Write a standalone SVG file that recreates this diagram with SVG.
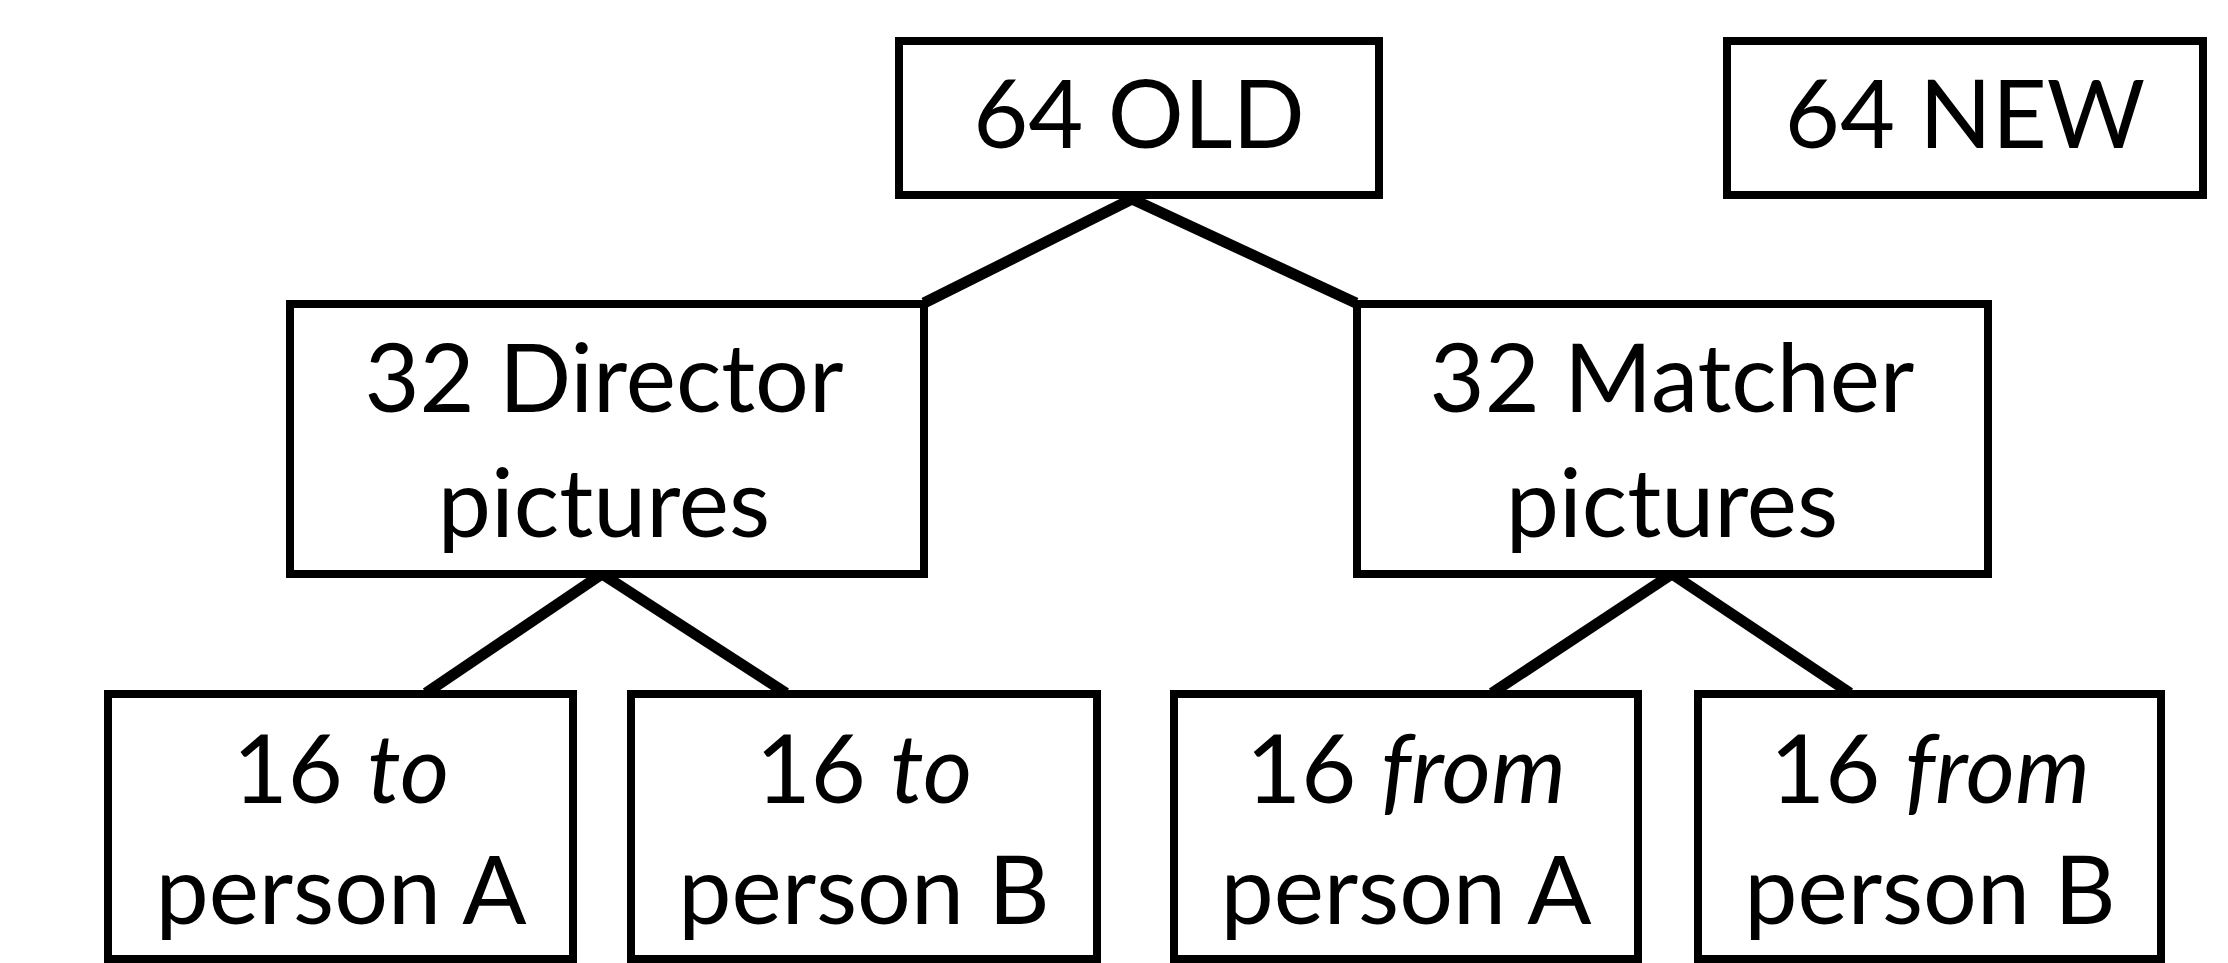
<svg xmlns="http://www.w3.org/2000/svg" width="2228" height="963" viewBox="0 0 2228 963">
<style>
.box{fill:#fff;stroke:#000;stroke-width:8}
.lbl{font-family:Lato,"Open Sans","Liberation Sans",sans-serif;font-size:95px;fill:#000;text-anchor:middle}
.conn line{stroke:#000;stroke-width:11}
</style>
<rect width="2228" height="963" fill="#fff"/>
<g id="connectors" class="conn">
<line x1="1132" y1="199" x2="924" y2="303"/>
<line x1="1132" y1="199" x2="1356" y2="303"/>
<line x1="602" y1="574" x2="426" y2="693"/>
<line x1="602" y1="574" x2="786" y2="693"/>
<line x1="1672" y1="574" x2="1492" y2="693"/>
<line x1="1672" y1="574" x2="1850" y2="693"/>
</g>
<g id="old">
<rect class="box" x="899" y="41" width="480" height="154"/>
<text class="lbl" x="1139" y="148">64 OLD</text>
</g>
<g id="new">
<rect class="box" x="1727" y="41" width="476" height="154"/>
<text class="lbl" x="1965" y="148">64 NEW</text>
</g>
<g id="director">
<rect class="box" x="290" y="304" width="634" height="270"/>
<text class="lbl" x="604" y="412">32 Director</text>
<text class="lbl" x="604" y="537">pictures</text>
</g>
<g id="matcher">
<rect class="box" x="1357" y="304" width="631" height="270"/>
<text class="lbl" x="1672" y="412">32 Matcher</text>
<text class="lbl" x="1672" y="537">pictures</text>
</g>
<g id="toA">
<rect class="box" x="108" y="694" width="465" height="265"/>
<text class="lbl" x="341" y="803">16 <tspan font-style="italic">to</tspan></text>
<text class="lbl" x="341" y="924">person A</text>
</g>
<g id="toB">
<rect class="box" x="631" y="694" width="466" height="265"/>
<text class="lbl" x="864" y="803">16 <tspan font-style="italic">to</tspan></text>
<text class="lbl" x="864" y="924">person B</text>
</g>
<g id="fromA">
<rect class="box" x="1174" y="694" width="464" height="265"/>
<text class="lbl" x="1406" y="803">16 <tspan font-style="italic">from</tspan></text>
<text class="lbl" x="1406" y="924">person A</text>
</g>
<g id="fromB">
<rect class="box" x="1698" y="694" width="463" height="265"/>
<text class="lbl" x="1930" y="803">16 <tspan font-style="italic">from</tspan></text>
<text class="lbl" x="1930" y="924">person B</text>
</g>
</svg>
